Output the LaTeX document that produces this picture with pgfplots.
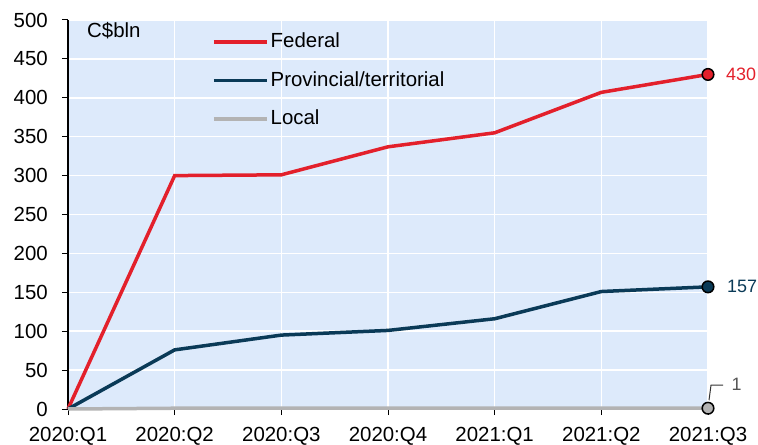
\documentclass[border=0pt]{standalone}
\usepackage{pgfplots}
\pgfplotsset{compat=1.18}
\usepackage{fontspec}
\setmainfont{Liberation Sans}
\definecolor{fedred}{HTML}{E3202B}
\definecolor{provnavy}{HTML}{0A3A57}
\definecolor{locgrey}{HTML}{B3B3B3}
\definecolor{bgblue}{HTML}{DDEAFB}
\definecolor{lblgrey}{HTML}{555555}
\newcommand{\bigf}{\fontsize{20.5}{24}\selectfont}
\newcommand{\smf}{\fontsize{18}{21}\selectfont}
\begin{document}
\begin{tikzpicture}
\path[use as bounding box] (0,0) rectangle (758bp,445bp);
\begin{axis}[
  at={(68bp,36bp)}, anchor=south west,
  scale only axis, width=640bp, height=389bp,
  xmin=0, xmax=6, ymin=0, ymax=500,
  xtick={0,...,6},
  xticklabels={2020:Q1,2020:Q2,2020:Q3,2020:Q4,2021:Q1,2021:Q2,2021:Q3},
  ytick={0,50,...,500},
  axis background/.style={fill=bgblue},
  grid=major, major grid style={white, line width=1.5bp},
  axis lines*=left,
  x axis line style={draw=none},
  y axis line style={black, line width=1.2bp},
  tick align=outside, major tick length=6bp,
  tick style={black, line width=1bp},
  ticklabel style={font=\bigf, inner sep=0pt},
  yticklabel style={xshift=-14bp},
  xticklabel style={yshift=-12bp},
  /pgf/number format/assume math mode=true,
  clip=false,
  legend style={at={(0.2297,1)}, anchor=north west, xshift=-3bp, yshift=-12.5bp,
    draw=none, fill=none, inner sep=0pt,
    font=\bigf, row sep=19.5bp,
    nodes={inner xsep=2bp, inner ysep=0pt, text height=15bp, text depth=4bp}},
  legend cell align=left,
  legend image code/.code={\draw[#1, mark=none] (0bp,0bp) -- (53bp,0bp);},
]
\addplot[fedred, line width=3.5bp, mark=*, mark indices={7}, mark size=5.8bp,
  mark options={draw=black, fill=fedred, line width=1.5bp}]
  coordinates {(0,0) (1,300) (2,301) (3,337) (4,355) (5,407) (6,430)};
\addlegendentry{Federal}
\addplot[provnavy, line width=3.5bp, mark=*, mark indices={7}, mark size=5.8bp,
  mark options={draw=black, fill=provnavy, line width=1.5bp}]
  coordinates {(0,0) (1,76) (2,95) (3,101) (4,116) (5,151) (6,157)};
\addlegendentry{Provincial/territorial}
\addplot[locgrey, line width=3.5bp, mark=*, mark indices={7}, mark size=5.8bp,
  mark options={draw=black, fill=locgrey, line width=1.5bp}]
  coordinates {(0,0) (1,1) (2,1) (3,1) (4,1) (5,1) (6,1)};
\addlegendentry{Local}
\node[anchor=west, inner sep=0pt, text=fedred, font=\smf] at (axis cs:6,430) [xshift=18bp] {430};
\node[anchor=west, inner sep=0pt, text=provnavy, font=\smf] at (axis cs:6,157) [xshift=19bp] {157};
\draw[black!80, line width=1bp] (axis cs:6,1) ++(1bp,8bp) -- ++(2bp,15bp) -- ++(12bp,0);
\node[anchor=west, inner sep=0pt, text=lblgrey, font=\smf] at (axis cs:6,1) [xshift=23.5bp, yshift=23.5bp] {1};
\node[anchor=base west, inner sep=0pt, font=\bigf] at (rel axis cs:0,1) [xshift=19bp, yshift=-18bp] {C\$bln};
\end{axis}
\end{tikzpicture}
\end{document}
